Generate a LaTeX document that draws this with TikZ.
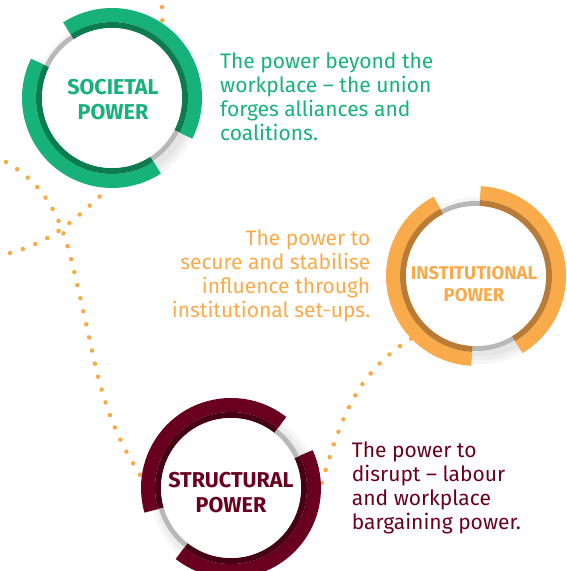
\documentclass[tikz,border=0pt]{standalone}
\usepackage{fontspec}
\setmainfont{Fira Sans}
\usepackage{tikz}
\usetikzlibrary{positioning}
\definecolor{socgreen}{HTML}{16B27A}
\definecolor{socdark}{HTML}{0C7B4F}
\definecolor{insorange}{HTML}{F9AA4A}
\definecolor{insdark}{HTML}{B97B35}
\definecolor{strred}{HTML}{6A0020}
\definecolor{strdark}{HTML}{470013}
\definecolor{ringgray}{HTML}{B8B8B8}
\definecolor{dotorange}{HTML}{F9A945}
\tikzstyle{ring} = [circle, minimum size = 180pt, inner sep = 0pt]
\tikzstyle{dots} = [draw = dotorange, line width = 4.5pt, line cap = round, dash pattern = on 0pt off 13.4pt]
\tikzstyle{title} = [font = \fontsize{21.5}{24.5}\selectfont\bfseries, align = center, inner sep = 0pt]
\tikzstyle{blurb} = [font = \fontsize{21}{24}\selectfont, inner sep = 0pt]
% ring round a circle node: name, colour, dark colour, two arcs
\newcommand{\powerring}[7]{%
  \foreach \r in {84, 80, 76} {
    \fill [black, opacity = 0.035] ([shift = {(-45:6)}] #1.center) circle (\r);
  }
  \draw [ringgray, line width = 5pt] (#1.center) circle (72.5);
  \foreach \a/\b in {#4/#5, #6/#7} {
    \draw [#2, line width = 14pt] (#1.center) ++(\a:83) arc [start angle = \a, end angle = \b, radius = 83];
    \draw [#3, line width = 6pt] (#1.center) ++(\a:73) arc [start angle = \a, end angle = \b, radius = 73];
  }
  \fill [white] (#1.center) circle (70);
}

\begin{document}
\begin{tikzpicture}[x = 1pt, y = 1pt]
			\useasboundingbox (0, 0) rectangle (566, 571);
			% Place nodes
			\node [ring] (socRing) at (112, 473) {};
			\node [ring] (insRing) at (476, 295) {};
			\node [ring] (strRing) at (231, 83) {};
			\coordinate (topEnd) at (162, 564);
			\coordinate (westEnd) at (6, 409);
			\coordinate (bend) at (81, 270);
			\coordinate (lowEnd) at (10, 318);
			% Draw edges
			\path [dots] (topEnd) -- (socRing.56);
			\path [dots] (westEnd) to [out = -30, in = 103] (bend) to [out = -77, in = 123] (strRing.173);
			\path [dots] (lowEnd) to [out = 15, in = 222] (socRing.268);
			\path [dots] (insRing.224) to [out = 212, in = 73] (strRing.2);
			% Rings
			\powerring{socRing}{socgreen}{socdark}{-27}{123}{154}{303}
			\powerring{insRing}{insorange}{insdark}{-59}{87}{118}{267}
			\powerring{strRing}{strred}{strdark}{-128}{25}{52}{196}
			% Labels
			\node [title, text = socgreen] (socTitle) at (113, 471.3) {SOCIETAL\\POWER};
			\node [title, text = insorange, font = \fontsize{18.5}{22.5}\selectfont\bfseries] (insTitle) at (474, 287) {INSTITUTIONAL\\POWER};
			\node [title, text = strred] (strTitle) at (231, 78.5) {STRUCTURAL\\POWER};
			\node [blurb, text = socgreen, anchor = north west, align = left] (socText) at (220, 518) {The power beyond the\\workplace – the union\\forges alliances and\\coalitions.};
			\node [blurb, text = insorange, anchor = north east, align = right] (insText) at (370.5, 341) {The power to\\secure and stabilise\\influence through\\institutional set-ups.};
			\node [blurb, text = strred, anchor = north west, align = left] (strText) at (351.7, 129.3) {The power to\\disrupt – labour\\and workplace\\bargaining power.};
		\end{tikzpicture}
\end{document}
